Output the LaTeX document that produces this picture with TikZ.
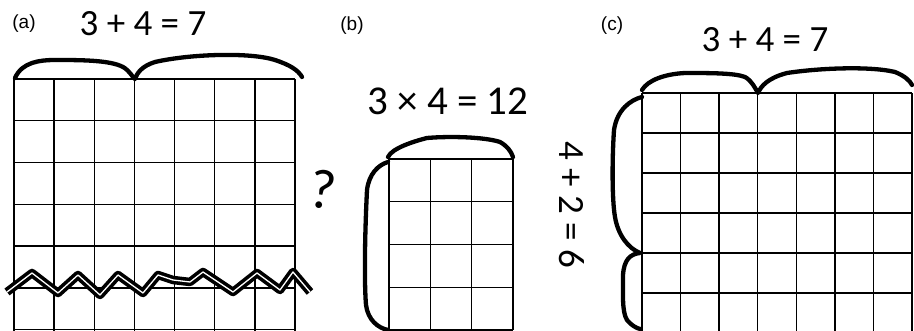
\documentclass[tikz,border=0pt]{standalone}
\usepackage{fontspec}
\setmainfont{Carlito}
\newfontfamily\panelfont{Liberation Sans}
\usetikzlibrary{positioning}

\begin{document}
\begin{tikzpicture}[
    x=1pt, y=-1pt,
    % Grids
    gridline/.style={line width=1.4pt, black},
    % Hand-drawn marks
    brace/.style={line width=4.3pt, line cap=round, line join=round},
    tear/.style={line width=3.6pt, double=white, double distance=1.3pt, line join=round},
    % Labels
    panel_text/.style={font=\panelfont\fontsize{19}{19}\selectfont},
    sum_text/.style={font=\fontsize{37}{37}\selectfont, inner sep=0pt}
]
    \useasboundingbox (0,0) rectangle (914,331);

    % --- PANEL (a): 7 wide, cut off below ---
    \foreach \i in {0,...,7} {
        \draw[gridline] (14+\i*40.14, 79) -- (14+\i*40.14, 331);
    }
    \foreach \j in {0,...,6} {
        \draw[gridline] (14, 79+\j*41.8) -- (295, 79+\j*41.8);
    }
    \draw[tear] (7,292) -- (32,273) -- (58,293) -- (78,275) -- (100,295)
        -- (118,275) -- (143,293) -- (158,275) -- (173,280) -- (190,282)
        -- (203,272) -- (233,292) -- (257,273) -- (280,290) -- (293,272)
        -- (310,292);
    \draw[brace] (15,78) .. controls (22,62) and (40,60) .. (55,60)
        .. controls (80,60) and (110,60) .. (123,67)
        .. controls (130,71) and (133,78) .. (135,79)
        .. controls (137,73) and (142,66) .. (155,62)
        .. controls (190,54) and (250,52) .. (275,60)
        .. controls (290,65) and (298,70) .. (302,77);

    \node[panel_text] (lab-a) at (24,24) {(a)};
    \node[sum_text] (sum-a) at (143,24) {3 + 4 = 7};

    % --- PANEL (b): 3 by 4 ---
    \foreach \i in {0,...,3} {
        \draw[gridline] (389+\i*41.3, 159) -- (389+\i*41.3, 330);
    }
    \foreach \j in {0,...,4} {
        \draw[gridline] (389, 159+\j*42.75) -- (513, 159+\j*42.75);
    }
    \draw[brace] (388,157) .. controls (392,148) and (415,141) .. (427,138)
        .. controls (450,136) and (485,137) .. (500,142)
        .. controls (507,146) and (511,151) .. (513,157);
    \draw[brace] (388,162) .. controls (378,165) and (369,174) .. (367,190)
        .. controls (365,230) and (364,280) .. (366,305)
        .. controls (368,320) and (378,328) .. (388,330);

    \node[panel_text] (lab-b) at (352,26) {(b)};
    \node[sum_text, font=\fontsize{41}{41}\selectfont] (sum-b) at (448,101) {3 × 4 = 12};
    \node[font=\fontsize{56}{56}\selectfont, rotate=-8, inner sep=0pt] (ask) at (323,190) {?};

    % --- PANEL (c): 7 by 6 ---
    \foreach \i in {0,...,7} {
        \draw[gridline] (642+\i*38.57, 93) -- (642+\i*38.57, 331);
    }
    \foreach \j in {0,...,5} {
        \draw[gridline] (642, 93+\j*40) -- (912, 93+\j*40);
    }
    \draw[brace] (642,90) .. controls (648,80) and (665,74) .. (685,73)
        .. controls (710,73) and (735,73) .. (745,77)
        .. controls (752,81) and (755,88) .. (758,93)
        .. controls (761,86) and (768,78) .. (787,73)
        .. controls (820,68) and (870,66) .. (895,72)
        .. controls (905,76) and (910,81) .. (912,85);
    \draw[brace] (642,97) .. controls (630,100) and (617,110) .. (614,130)
        .. controls (612,160) and (612,200) .. (615,217)
        .. controls (618,235) and (628,248) .. (640,253)
        .. controls (630,254) and (624,260) .. (623,275)
        .. controls (623,295) and (622,312) .. (627,320)
        .. controls (631,325) and (636,328) .. (640,329);

    \node[panel_text] (lab-c) at (612,26) {(c)};
    \node[sum_text] (sum-c) at (765,40) {3 + 4 = 7};
    \node[sum_text, rotate=-90] (sum-side) at (572,205) {4 + 2 = 6};

\end{tikzpicture}
\end{document}
